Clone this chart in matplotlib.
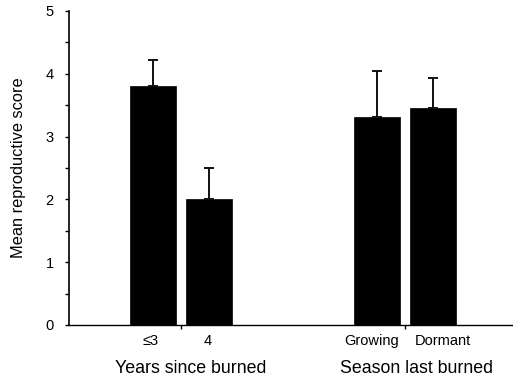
import matplotlib
matplotlib.use('Agg')
import matplotlib.pyplot as plt
from matplotlib.ticker import MultipleLocator

plt.rcParams['font.family'] = ['Liberation Sans', 'DejaVu Sans']

# data
categories = ['\u22643', '4', 'Growing', 'Dormant']
means = [3.80, 2.00, 3.31, 3.45]
errors = [0.42, 0.50, 0.73, 0.48]
group_labels = ['Years since burned', 'Season last burned']

positions = [1.5, 2.5, 5.5, 6.5]
label_pos = [1.45, 2.48, 5.41, 6.68]
group_pos = [2.0, 6.0]
group_label_pos = [2.18, 6.21]

fig = plt.figure(figsize=(5.13, 3.80), dpi=100)
ax = fig.add_axes([69 / 513, 55 / 380, 444 / 513, 314 / 380])

ax.bar(positions, means, width=0.82, color='black', edgecolor='black',
       linewidth=0.5, zorder=2)
ax.errorbar(positions, means, yerr=[[0] * len(errors), errors], fmt='none',
            ecolor='#111111', elinewidth=1.4, capsize=3.5, capthick=1.4,
            zorder=3)

ax.set_xlim(0, 444 / 56)
ax.set_ylim(0, 5)
ax.yaxis.set_major_locator(MultipleLocator(1))
ax.yaxis.set_minor_locator(MultipleLocator(0.5))
ax.tick_params(axis='y', which='major', direction='out', length=3, width=1,
               pad=8, labelsize=10.5)
ax.tick_params(axis='y', which='minor', direction='out', length=3, width=1)

ax.set_xticks(group_pos)
ax.set_xticklabels([])
ax.tick_params(axis='x', which='major', direction='out', length=3, width=1)
for p, c in zip(label_pos, categories):
    ax.text(p, -0.26, c, ha='center', va='center', fontsize=10.5)
for p, g in zip(group_label_pos, group_labels):
    ax.text(p, -0.69, g, ha='center', va='center', fontsize=12.8)

ax.spines['top'].set_visible(False)
ax.spines['right'].set_visible(False)
ax.spines['left'].set_linewidth(1.2)
ax.spines['bottom'].set_linewidth(1.0)

ax.set_ylabel('Mean reproductive score', fontsize=11.8, labelpad=14)

fig.savefig('out.png', dpi=100)
